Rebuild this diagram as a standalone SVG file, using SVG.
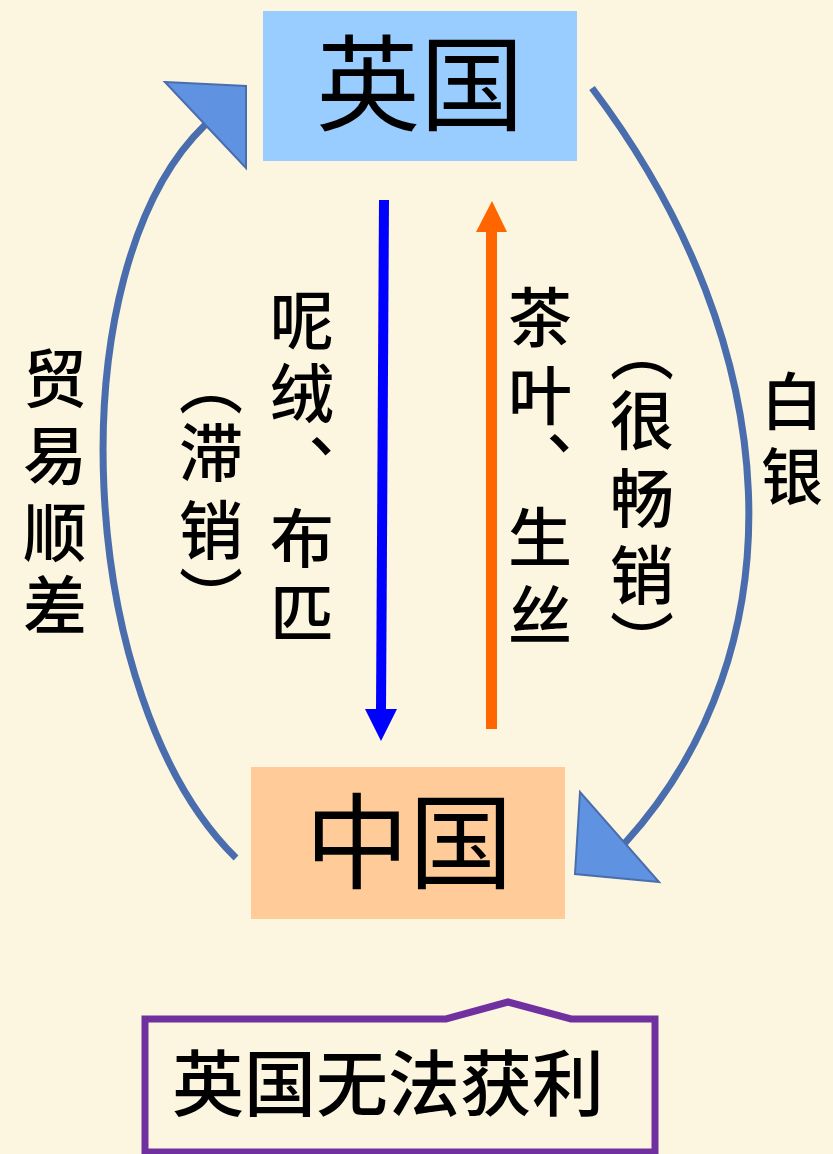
<svg xmlns="http://www.w3.org/2000/svg" width="833" height="1154" viewBox="0 0 833 1154">
<style>
.lbl{font-family:"Noto Sans CJK SC","Noto Sans CJK JP",sans-serif;font-weight:500;fill:#000;}
.vert{writing-mode:vertical-rl;font-size:64px;}
.big{font-family:"Noto Sans CJK SC","Noto Sans CJK JP",sans-serif;font-size:104px;fill:#000;text-anchor:middle;}
.curve{fill:none;stroke:#4A6EAD;stroke-width:7;}
.head{fill:#5F93E2;stroke:#4A6EAD;stroke-width:2;stroke-linejoin:miter;}
</style>
<rect x="0" y="0" width="833" height="1154" fill="#FCF5DF"/>
<g id="connectors">
  <path class="curve" d="M236,858 C75,700 55,270 205,125"/>
  <polygon class="head" points="165,82 246,86 246,168"/>
  <path class="curve" d="M592,88 C790,350 800,650 625,843"/>
  <polygon class="head" points="580,792 575,874 659,882"/>
  <line x1="384" y1="200" x2="381" y2="712" stroke="#0000FF" stroke-width="10"/>
  <polygon points="365,709 397,709 381,741" fill="#0000FF"/>
  <line x1="491.5" y1="229" x2="491.5" y2="729" stroke="#FF6600" stroke-width="11"/>
  <polygon points="476,232 507,232 492,201" fill="#FF6600"/>
</g>
<g id="node-uk">
  <rect x="263" y="11" width="314" height="150" fill="#99CCFF"/>
  <text class="big" x="420" y="123">英国</text>
</g>
<g id="node-cn">
  <rect x="251" y="767" width="314" height="152" fill="#FFCC99"/>
  <text class="big" x="409" y="881">中国</text>
</g>
<g id="node-result">
  <path d="M145,1019 L446,1019 L508,1002 L571,1019 L655,1019 L655,1152 L145,1152 Z" fill="none" stroke="#7030A0" stroke-width="7" stroke-linejoin="miter"/>
  <text class="lbl" x="388" y="1110" font-size="72" text-anchor="middle">英国无法获利</text>
</g>
<g id="labels">
  <text class="lbl vert" x="302" y="288 361 434 506 581">呢绒、布匹</text>
  <text class="lbl vert" x="211" y="352 420 498 566">（滞销）</text>
  <text class="lbl vert" x="540" y="285 363 431 505 583">茶叶、生丝</text>
  <text class="lbl vert" x="642" y="318 388 466 543 610">（很畅销）</text>
  <text class="lbl vert" x="55" y="346 423 500 573">贸易顺差</text>
  <text class="lbl" x="792 792" y="425 500" font-size="62" text-anchor="middle">白银</text>
</g>
</svg>
